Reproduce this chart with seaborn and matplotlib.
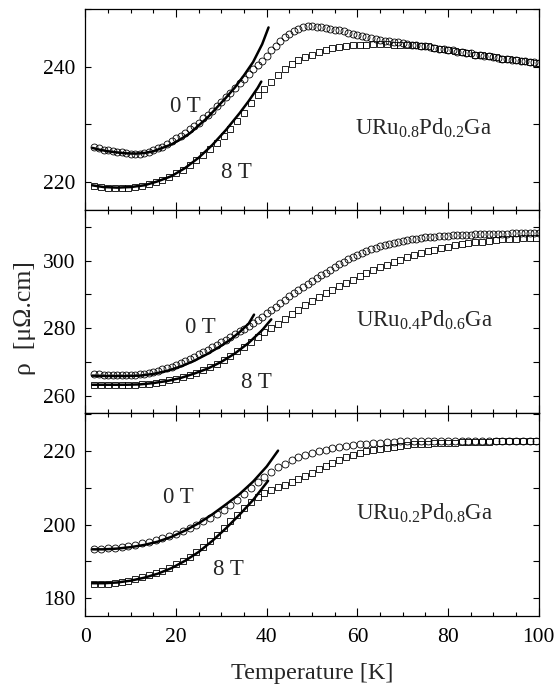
import matplotlib
matplotlib.use("Agg")
import matplotlib.pyplot as plt
from matplotlib.ticker import MultipleLocator
import seaborn as sns
import pandas as pd

sns.set_theme(style="ticks")
plt.rcParams["font.family"] = ["Liberation Serif", "DejaVu Serif"]
plt.rcParams["mathtext.fontset"] = "custom"
plt.rcParams["mathtext.rm"] = "Liberation Serif"
plt.rcParams["mathtext.it"] = "Liberation Serif:italic"
plt.rcParams["mathtext.bf"] = "Liberation Serif:bold"

# ---------------------------------------------------------------- temperatures
T_fine = [2, 3, 4, 5, 6, 7, 8, 9, 10, 11, 12, 13, 14, 15, 16, 17, 18, 19, 20,
          21, 22, 23, 24, 25, 26, 27, 28, 29, 30, 31, 32, 33, 34, 35, 36, 37,
          38, 39, 40, 41, 42, 43, 44, 45, 46, 47, 48, 49, 50, 51, 52, 53, 54,
          55, 56, 57, 58, 59, 60, 61, 62, 63, 64, 65, 66, 67, 68, 69, 70, 71,
          72, 73, 74, 75, 76, 77, 78, 79, 80, 81, 82, 83, 84, 85, 86, 87, 88,
          89, 90, 91, 92, 93, 94, 95, 96, 97, 98, 99, 100]

T_coarse = [2, 3.5, 5, 6.5, 8, 9.5, 11, 12.5, 14, 15.5, 17, 18.5, 20, 21.5,
            23, 24.5, 26, 27.5, 29, 30.5, 32, 33.5, 35, 36.5, 38, 39.5, 41,
            42.5, 44, 45.5, 47, 48.5, 50, 51.5, 53, 54.5, 56, 57.5, 59, 60.5,
            62, 63.5, 65, 66.5, 68, 69.5, 71, 72.5, 74, 75.5, 77, 78.5, 80,
            81.5, 83, 84.5, 86, 87.5, 89, 90.5, 92, 93.5, 95, 96.5, 98, 99.5]

# ---------------------------------------------------------- URu0.8Pd0.2Ga
rho_a_0T = [226.0, 225.8, 225.6, 225.5, 225.4, 225.2, 225.1, 225.0, 224.9,
            224.9, 224.9, 225.0, 225.2, 225.5, 225.8, 226.1, 226.6, 227.1,
            227.6, 228.0, 228.5, 229.1, 229.7, 230.3, 231.0, 231.6, 232.3,
            233.1, 233.9, 234.7, 235.5, 236.3, 237.1, 237.9, 238.7, 239.5,
            240.2, 240.9, 241.9, 242.8, 243.6, 244.4, 245.1, 245.7, 246.2,
            246.6, 246.9, 247.0, 247.0, 246.9, 246.8, 246.7, 246.6, 246.4,
            246.3, 246.1, 245.9, 245.7, 245.5, 245.3, 245.1, 244.9, 244.8,
            244.6, 244.5, 244.4, 244.3, 244.2, 244.1, 243.9, 243.8, 243.7,
            243.6, 243.5, 243.4, 243.3, 243.1, 243.0, 242.9, 242.8, 242.6,
            242.5, 242.4, 242.3, 242.1, 242.0, 241.9, 241.8, 241.6, 241.5,
            241.4, 241.3, 241.2, 241.1, 241.0, 240.9, 240.8, 240.8, 240.7]

rho_a_8T = [219.3, 219.1, 219.0, 219.0, 219.0, 219.0, 219.1, 219.3, 219.6,
            220.0, 220.4, 220.9, 221.5, 222.1, 222.9, 223.8, 224.7, 225.7,
            226.8, 227.9, 229.2, 230.6, 232.0, 233.6, 235.0, 236.2, 237.4,
            238.6, 239.6, 240.5, 241.2, 241.7, 242.1, 242.5, 242.9, 243.2,
            243.4, 243.5, 243.7, 243.8, 243.8, 243.9, 243.9, 243.9, 243.8,
            243.8, 243.8, 243.7, 243.6, 243.5, 243.3, 243.1, 242.9, 242.7,
            242.5, 242.3, 242.1, 242.0, 241.8, 241.6, 241.4, 241.3, 241.1,
            241.0, 240.8, 240.7]

fit_a_0T_T = [1.5, 3, 5, 7, 9, 11, 13, 15, 17, 19, 21, 23, 25, 27, 29, 31,
              33, 35, 37, 39, 40.4]
fit_a_0T = [225.9, 225.6, 225.3, 225.1, 224.95, 224.9, 225.0, 225.3, 225.9,
            226.5, 227.4, 228.4, 229.8, 231.2, 232.9, 234.6, 236.4, 238.5,
            240.8, 243.9, 246.8]
fit_a_8T_T = [1.5, 4, 7, 10, 13, 16, 19, 22, 25, 28, 31, 34, 36, 38, 38.8]
fit_a_8T = [219.4, 219.1, 219.0, 219.1, 219.4, 220.1, 221.0, 222.4, 224.2,
            226.4, 229.0, 231.9, 234.0, 236.3, 237.4]

# ---------------------------------------------------------- URu0.4Pd0.6Ga
rho_b_0T = [266.5, 266.3, 266.2, 266.1, 266.1, 266.1, 266.1, 266.1, 266.1,
            266.2, 266.3, 266.5, 266.8, 267.1, 267.4, 267.8, 268.2, 268.6,
            269.0, 269.6, 270.2, 270.8, 271.5, 272.2, 272.9, 273.6, 274.3,
            275.0, 275.8, 276.6, 277.4, 278.2, 279.0, 279.8, 280.6, 281.5,
            282.4, 283.4, 284.4, 285.4, 286.4, 287.4, 288.4, 289.4, 290.3,
            291.2, 292.1, 293.0, 293.9, 294.8, 295.7, 296.5, 297.3, 298.1,
            298.9, 299.7, 300.5, 301.2, 301.8, 302.4, 302.9, 303.4, 303.9,
            304.3, 304.7, 305.0, 305.3, 305.6, 305.9, 306.1, 306.3, 306.5,
            306.7, 306.9, 307.0, 307.1, 307.2, 307.3, 307.4, 307.5, 307.6,
            307.6, 307.7, 307.7, 307.8, 307.8, 307.9, 307.9, 307.9, 308.0,
            308.0, 308.0, 308.1, 308.1, 308.1, 308.1, 308.1, 308.1, 308.1]

rho_b_8T = [263.1, 263.1, 263.0, 263.0, 263.0, 263.1, 263.1, 263.3, 263.5,
            263.8, 264.1, 264.5, 265.0, 265.5, 266.1, 266.8, 267.5, 268.4,
            269.4, 270.6, 271.8, 273.1, 274.5, 275.9, 277.3, 278.7, 280.0,
            281.3, 282.7, 284.1, 285.5, 286.8, 288.0, 289.2, 290.3, 291.4,
            292.4, 293.4, 294.4, 295.4, 296.3, 297.2, 298.0, 298.8, 299.6,
            300.3, 301.0, 301.6, 302.2, 302.8, 303.3, 303.8, 304.2, 304.6,
            304.9, 305.2, 305.5, 305.7, 305.9, 306.1, 306.3, 306.4, 306.5,
            306.6, 306.7, 306.7]

fit_b_0T_T = [1.5, 5, 9, 12, 15, 18, 21, 24, 27, 30, 32, 34, 36, 37.2]
fit_b_0T = [265.9, 265.8, 265.8, 265.9, 266.4, 267.3, 268.6, 270.3, 272.4,
            274.8, 276.6, 278.8, 281.3, 284.0]
fit_b_8T_T = [1.5, 5, 9, 12, 15, 18, 21, 24, 27, 30, 33, 36, 39, 41]
fit_b_8T = [263.2, 263.2, 263.2, 263.3, 263.7, 264.3, 265.2, 266.5, 268.0,
            270.0, 272.5, 275.6, 279.4, 282.6]

# ---------------------------------------------------------- URu0.2Pd0.8Ga
rho_c_0T = [193.5, 193.5, 193.6, 193.7, 193.9, 194.2, 194.5, 194.9, 195.3,
            195.8, 196.3, 196.9, 197.6, 198.4, 199.2, 200.0, 200.9, 201.9,
            202.9, 204.1, 205.4, 206.8, 208.3, 209.9, 211.5, 213.0, 214.4,
            215.6, 216.6, 217.5, 218.3, 218.9, 219.4, 219.9, 220.3, 220.7,
            221.0, 221.3, 221.6, 221.8, 222.0, 222.2, 222.3, 222.4, 222.5,
            222.6, 222.7, 222.7, 222.8, 222.8, 222.8, 222.8, 222.8, 222.8,
            222.8, 222.8, 222.8, 222.8, 222.8, 222.8, 222.8, 222.8, 222.8,
            222.8, 222.8, 222.8]

rho_c_8T = [183.9, 183.9, 184.0, 184.2, 184.5, 184.8, 185.2, 185.7, 186.2,
            186.8, 187.5, 188.3, 189.2, 190.2, 191.3, 192.6, 194.0, 195.5,
            197.2, 199.0, 200.9, 202.7, 204.5, 206.1, 207.4, 208.5, 209.4,
            210.2, 210.9, 211.6, 212.4, 213.2, 214.1, 215.0, 215.9, 216.8,
            217.6, 218.3, 218.9, 219.4, 219.9, 220.3, 220.6, 220.9, 221.2,
            221.4, 221.6, 221.8, 221.9, 222.0, 222.1, 222.2, 222.2, 222.3,
            222.4, 222.4, 222.5, 222.5, 222.5, 222.6, 222.6, 222.6, 222.6,
            222.6, 222.6, 222.6]

fit_c_0T_T = [1.5, 4, 7, 10, 13, 16, 19, 22, 25, 28, 31, 34, 37, 40, 42.5]
fit_c_0T = [193.3, 193.3, 193.5, 193.9, 194.5, 195.4, 196.7, 198.4, 200.4,
            202.8, 205.5, 208.3, 211.7, 215.8, 220.1]
fit_c_8T_T = [1.5, 4, 7, 10, 13, 16, 19, 22, 25, 28, 31, 34, 37, 40.3]
fit_c_8T = [184.1, 184.1, 184.3, 184.8, 185.6, 186.7, 188.2, 190.2, 192.6,
            195.6, 199.0, 202.7, 206.7, 211.9]

compounds = [r"URu$_{\mathrm{0.8}}$Pd$_{\mathrm{0.2}}$Ga",
             r"URu$_{\mathrm{0.4}}$Pd$_{\mathrm{0.6}}$Ga",
             r"URu$_{\mathrm{0.2}}$Pd$_{\mathrm{0.8}}$Ga"]
field_labels = ["0 T", "8 T"]

panels = [
    dict(T0=T_fine, r0=rho_a_0T, T8=T_coarse, r8=rho_a_8T,
         f0T=fit_a_0T_T, f0=fit_a_0T, f8T=fit_a_8T_T, f8=fit_a_8T,
         ylim=(215.2, 250.0), name=compounds[0],
         name_pos=(59.5, 228.1), lab0=(18.6, 232.2), lab8=(29.9, 220.6)),
    dict(T0=T_fine, r0=rho_b_0T, T8=T_coarse, r8=rho_b_8T,
         f0T=fit_b_0T_T, f0=fit_b_0T, f8T=fit_b_8T_T, f8=fit_b_8T,
         ylim=(254.9, 315.2), name=compounds[1],
         name_pos=(59.7, 280.5), lab0=(21.9, 278.6), lab8=(34.4, 262.1)),
    dict(T0=T_coarse, r0=rho_c_0T, T8=T_coarse, r8=rho_c_8T,
         f0T=fit_c_0T_T, f0=fit_c_0T, f8T=fit_c_8T_T, f8=fit_c_8T,
         ylim=(175.2, 230.4), name=compounds[2],
         name_pos=(59.7, 201.25), lab0=(17.1, 205.8), lab8=(28.1, 186.3)),
]

W, H = 557, 685
fig = plt.figure(figsize=(W / 100, H / 100), dpi=100)
left, right = 85.4, 538.7
edges = [(9, 209.5), (209.5, 412.7), (412.7, 616)]

axes = []
for (top, bot), p in zip(edges, panels):
    ax = fig.add_axes([left / W, (H - bot) / H, (right - left) / W, (bot - top) / H])
    axes.append(ax)

    d0 = pd.DataFrame({"T": p["T0"], "rho": p["r0"]})
    d8 = pd.DataFrame({"T": p["T8"], "rho": p["r8"]})
    sns.lineplot(data=d0, x="T", y="rho", ax=ax, estimator=None, sort=False,
                 linestyle="", marker="o", markersize=5.0,
                 markerfacecolor="none", markeredgecolor="black",
                 markeredgewidth=0.6, color="black")
    sns.lineplot(data=d8, x="T", y="rho", ax=ax, estimator=None, sort=False,
                 linestyle="", marker="s", markersize=4.4,
                 markerfacecolor="none", markeredgecolor="black",
                 markeredgewidth=0.6, color="black")

    fa = pd.DataFrame({"T": p["f0T"], "rho": p["f0"]})
    fb = pd.DataFrame({"T": p["f8T"], "rho": p["f8"]})
    for f in (fa, fb):
        sns.lineplot(data=f, x="T", y="rho", ax=ax, estimator=None, sort=False,
                     color="black", linewidth=1.8)

    ax.set_xlim(0, 100)
    ax.set_ylim(*p["ylim"])
    ax.xaxis.set_major_locator(MultipleLocator(20))
    ax.xaxis.set_minor_locator(MultipleLocator(5))
    ax.yaxis.set_major_locator(MultipleLocator(20))
    ax.yaxis.set_minor_locator(MultipleLocator(10))
    ax.tick_params(which="both", direction="in", top=True, right=True,
                   labelsize=15.5, width=0.8, colors="black")
    ax.tick_params(axis="x", which="major", length=5.5, pad=9)
    ax.tick_params(axis="x", which="minor", length=3.2)
    ax.tick_params(axis="y", which="both", length=4.5, pad=7)
    for s in ax.spines.values():
        s.set_linewidth(0.9)
        s.set_color("black")
    ax.set_xlabel("")
    ax.set_ylabel("")

    ax.text(*p["name_pos"], p["name"], fontsize=16.5, ha="left", va="baseline")
    ax.text(*p["lab0"], field_labels[0], fontsize=16.5, ha="left", va="baseline")
    ax.text(*p["lab8"], field_labels[1], fontsize=16.5, ha="left", va="baseline")

for ax in axes[:-1]:
    ax.tick_params(axis="x", labelbottom=False)

axes[-1].set_xlabel("Temperature [K]", fontsize=17.5, labelpad=11)
fig.text(25 / W, 1 - 318 / H, "ρ  [μΩ.cm]", rotation=90, fontsize=18.5,
         ha="center", va="center")

fig.savefig("out.png", dpi=100)
